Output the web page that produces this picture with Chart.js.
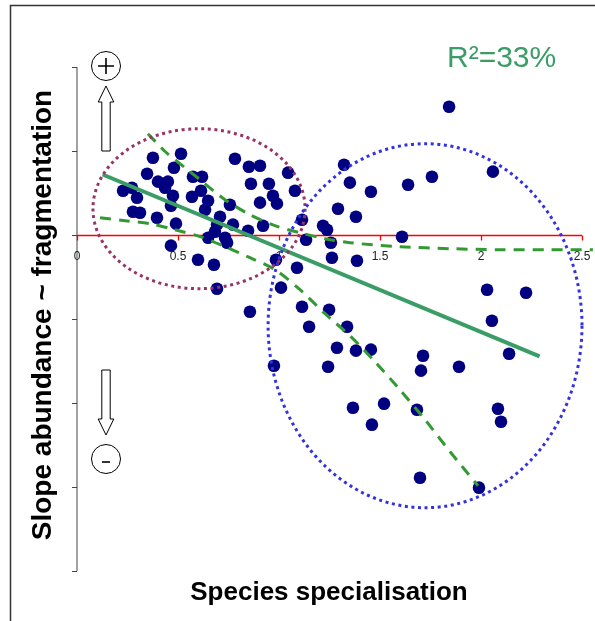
<!DOCTYPE html>
<html lang="en">
<head>
    <meta charset="UTF-8">
    <title>Slope abundance vs species specialisation</title>
    <script src="https://cdn.jsdelivr.net/npm/chart.js"></script>
    <style>
        html, body { margin: 0; padding: 0; background: #fff; }
        canvas { display: block; }
    </style>
</head>
<body>
    <canvas id="chart" width="595" height="621"></canvas>

    <script>
        // species specialisation (x) and slope abundance ~ fragmentation (y)
        const specX = [
            0.228, 0.272, 0.297, 0.347, 0.376, 0.515, 0.480, 0.401, 0.450, 0.436,
            0.475, 0.277, 0.312, 0.396, 0.465, 0.490, 0.574, 0.619, 0.569, 0.614,
            0.649, 0.782, 0.851, 0.906, 0.861, 0.950, 0.970, 0.990, 0.906, 1.045,
            1.079, 0.634, 0.708, 0.693, 0.683, 0.649, 0.733, 0.743, 0.772, 0.757,
            0.847, 0.921, 0.465, 0.599, 0.678, 0.693,
            1.114, 1.134, 1.218, 1.238, 1.257, 0.985, 1.089, 1.010, 0.856, 1.114,
            1.149, 1.248, 1.337, 1.287, 1.381, 1.455, 0.975, 1.243, 1.366, 1.292,
            1.381, 1.322, 1.351, 1.455, 1.639, 1.757, 1.842, 2.059, 1.609, 1.262,
            1.386, 2.030, 2.223, 2.054, 2.139, 1.713, 1.703, 1.891, 1.520, 1.460,
            1.683, 2.084, 2.099, 1.698, 1.990
        ];
        const slopeY = [
            0.527, 0.563, 0.444, 0.730, 0.920, 0.968, 0.801, 0.635, 0.635, 0.563,
            0.468, 0.277, 0.265, 0.206, 0.349, 0.135, 0.694, 0.694, 0.456, 0.527,
            0.408, 0.908, 0.813, 0.825, 0.611, 0.611, 0.468, 0.373, 0.385, 0.742,
            0.527, 0.301, 0.218, 0.123, 0.039, -0.032, -0.032, -0.092, 0.123, 0.361,
            0.051, 0.111, -0.127, -0.294, -0.354, -0.639,
            0.182, -0.056, 0.111, 0.063, -0.092, -0.294, -0.389, -0.627, -0.913, -0.854,
            -1.092, -0.889, -1.092, -1.342, -1.377, -1.365, -1.556, -1.568, -2.056, 0.313,
            0.218, 0.837, 0.623, 0.515, 0.599, 0.694, 1.527, 0.754, -0.020, -0.270,
            -0.306, -0.651, -0.687, -1.020, -1.413, -1.437, -1.615, -1.568, -2.008, -2.258,
            -2.080, -2.068, -2.223, -2.889, -3.008
        ];

        // fitted regression line
        const fitX = [0.127, 2.29];
        const fitY = [0.72, -1.445];

        // dashed band curves
        const upperX = [0.351, 0.436, 0.535, 0.609, 0.733, 0.856, 0.980, 1.104, 1.228, 1.351, 1.599, 1.847, 2.094, 2.342, 2.554];
        const upperY = [1.206, 0.994, 0.801, 0.658, 0.420, 0.242, 0.111, 0.027, -0.044, -0.092, -0.139, -0.163, -0.175, -0.175, -0.175];
        const lowerX = [0.114, 0.238, 0.361, 0.485, 0.609, 0.733, 0.856, 0.980, 1.104, 1.228, 1.351, 1.475, 1.599, 1.723, 1.847, 1.985];
        const lowerY = [0.206, 0.170, 0.135, 0.063, -0.020, -0.139, -0.270, -0.413, -0.651, -0.937, -1.199, -1.509, -1.843, -2.199, -2.580, -2.985];

        const xTicks = [0, 0.5, 1, 1.5, 2, 2.5];
        const xTickLabels = ['0', '0.5', '1', '1.5', '2', '2.5'];
        const yTicks = [2, 1, 0, -1, -2, -3, -4];

        // group ellipses: [centre x, centre y, radius x, radius y] in data units
        const groupLeft = [0.604, 0.313, 0.525, 0.952];
        const groupRight = [1.723, -1.080, 0.777, 2.167];

        const zip = (xs, ys) => xs.map((x, i) => ({ x: x, y: ys[i] }));

        function drawArrow(ctx, cx, y0, y1, up) {
            // outlined block arrow, y0 = shaft end, y1 = tip
            const sw = 4.2, hw = 7.8, hl = 16;
            const dir = up ? -1 : 1;
            const base = y1 - dir * hl;
            ctx.beginPath();
            ctx.moveTo(cx - sw, y0);
            ctx.lineTo(cx - sw, base);
            ctx.lineTo(cx - hw, base);
            ctx.lineTo(cx, y1);
            ctx.lineTo(cx + hw, base);
            ctx.lineTo(cx + sw, base);
            ctx.lineTo(cx + sw, y0);
            ctx.closePath();
            ctx.fillStyle = '#fff';
            ctx.fill();
            ctx.strokeStyle = '#000';
            ctx.lineWidth = 1;
            ctx.stroke();
        }

        function drawSign(ctx, cx, cy, plus) {
            ctx.beginPath();
            ctx.arc(cx, cy, 14.5, 0, Math.PI * 2);
            ctx.strokeStyle = '#000';
            ctx.lineWidth = 1;
            ctx.stroke();
            ctx.lineWidth = 1.6;
            ctx.beginPath();
            if (plus) {
                ctx.moveTo(cx - 8, cy); ctx.lineTo(cx + 8, cy);
                ctx.moveTo(cx, cy - 8); ctx.lineTo(cx, cy + 8);
            } else {
                ctx.moveTo(cx - 4, cy + 3); ctx.lineTo(cx + 4, cy + 3);
            }
            ctx.stroke();
        }

        const decor = {
            id: 'decor',
            beforeDatasetsDraw(chart) {
                const ctx = chart.ctx;
                const xs = chart.scales.x, ys = chart.scales.y;
                ctx.save();

                // figure frame
                ctx.strokeStyle = '#333';
                ctx.lineWidth = 1.5;
                ctx.beginPath();
                ctx.moveTo(10.5, 625);
                ctx.lineTo(10.5, 5.5);
                ctx.lineTo(600, 5.5);
                ctx.stroke();

                // y axis
                const ax = xs.getPixelForValue(0);
                ctx.strokeStyle = '#444';
                ctx.lineWidth = 1;
                ctx.beginPath();
                ctx.moveTo(ax, ys.getPixelForValue(yTicks[0]));
                ctx.lineTo(ax, ys.getPixelForValue(yTicks[yTicks.length - 1]));
                yTicks.forEach(v => {
                    const py = Math.round(ys.getPixelForValue(v)) + 0.5;
                    ctx.moveTo(ax - 5, py);
                    ctx.lineTo(ax, py);
                });
                ctx.stroke();

                // x axis drawn at y = 0
                const y0 = Math.round(ys.getPixelForValue(0)) + 0.5;
                ctx.strokeStyle = '#f00';
                ctx.lineWidth = 1.3;
                ctx.beginPath();
                ctx.moveTo(xs.getPixelForValue(xTicks[0]), y0);
                ctx.lineTo(xs.getPixelForValue(xTicks[xTicks.length - 1]), y0);
                xTicks.forEach(v => {
                    const px = Math.round(xs.getPixelForValue(v)) + 0.5;
                    ctx.moveTo(px, y0);
                    ctx.lineTo(px, y0 + 5);
                });
                ctx.stroke();
                ctx.fillStyle = '#222';
                ctx.font = '12px "Liberation Sans", Arial, sans-serif';
                ctx.textAlign = 'center';
                ctx.textBaseline = 'middle';
                xTicks.forEach((v, i) => {
                    ctx.fillText(xTickLabels[i], xs.getPixelForValue(v), y0 + 21);
                });

                // axis titles
                ctx.fillStyle = '#000';
                ctx.font = 'bold 26px "Liberation Sans", Arial, sans-serif';
                ctx.fillText('Species specialisation', 329, 593);
                ctx.save();
                ctx.translate(43, 315);
                ctx.rotate(-Math.PI / 2);
                ctx.font = 'bold 28px "Liberation Sans", Arial, sans-serif';
                ctx.fillText('Slope abundance ~ fragmentation', 0, 0);
                ctx.restore();

                // R squared
                ctx.fillStyle = '#3a9d65';
                ctx.font = '30px "Liberation Sans", Arial, sans-serif';
                ctx.textAlign = 'left';
                ctx.fillText('R²=33%', 447, 59);

                // direction arrows
                drawSign(ctx, 106, 66, true);
                drawArrow(ctx, 106, 151, 86, true);
                drawArrow(ctx, 106, 370, 435, false);
                drawSign(ctx, 106, 459, false);

                ctx.restore();
            },
            afterDatasetsDraw(chart) {
                const ctx = chart.ctx;
                const xs = chart.scales.x, ys = chart.scales.y;
                const ell = (e, color) => {
                    const cx = xs.getPixelForValue(e[0]);
                    const cy = ys.getPixelForValue(e[1]);
                    const rx = xs.getPixelForValue(e[0] + e[2]) - cx;
                    const ry = cy - ys.getPixelForValue(e[1] + e[3]);
                    ctx.beginPath();
                    ctx.ellipse(cx, cy, rx, ry, 0, 0, Math.PI * 2);
                    ctx.strokeStyle = color;
                    ctx.stroke();
                };
                ctx.save();
                ctx.lineWidth = 3;
                ctx.setLineDash([3, 3.6]);
                ell(groupLeft, '#993366');
                ell(groupRight, '#3333dd');
                ctx.restore();
            }
        };

        new Chart(document.getElementById('chart'), {
            type: 'scatter',
            data: {
                datasets: [
                    {
                        type: 'line',
                        data: zip(fitX, fitY),
                        borderColor: '#3a9d65',
                        borderWidth: 4,
                        pointRadius: 0,
                        fill: false,
                        clip: false,
                        order: 1
                    },
                    {
                        type: 'line',
                        data: zip(upperX, upperY),
                        borderColor: '#339933',
                        borderWidth: 3,
                        borderDash: [11, 8],
                        pointRadius: 0,
                        tension: 0.3,
                        fill: false,
                        clip: false,
                        order: 2
                    },
                    {
                        type: 'line',
                        data: zip(lowerX, lowerY),
                        borderColor: '#339933',
                        borderWidth: 3,
                        borderDash: [11, 8],
                        pointRadius: 0,
                        tension: 0.3,
                        fill: false,
                        clip: false,
                        order: 2
                    },
                    {
                        data: zip(specX, slopeY),
                        backgroundColor: '#000080',
                        borderColor: '#000080',
                        pointRadius: 6.3,
                        borderWidth: 0,
                        clip: false,
                        order: 5
                    }
                ]
            },
            options: {
                responsive: false,
                animation: false,
                layout: { padding: { left: 77, right: 13, top: 67, bottom: 50 } },
                plugins: {
                    legend: { display: false },
                    tooltip: { enabled: false }
                },
                scales: {
                    x: { type: 'linear', min: 0, max: 2.5, display: false },
                    y: { type: 'linear', min: -4, max: 2, display: false }
                }
            },
            plugins: [decor]
        });
    </script>
</body>
</html>
